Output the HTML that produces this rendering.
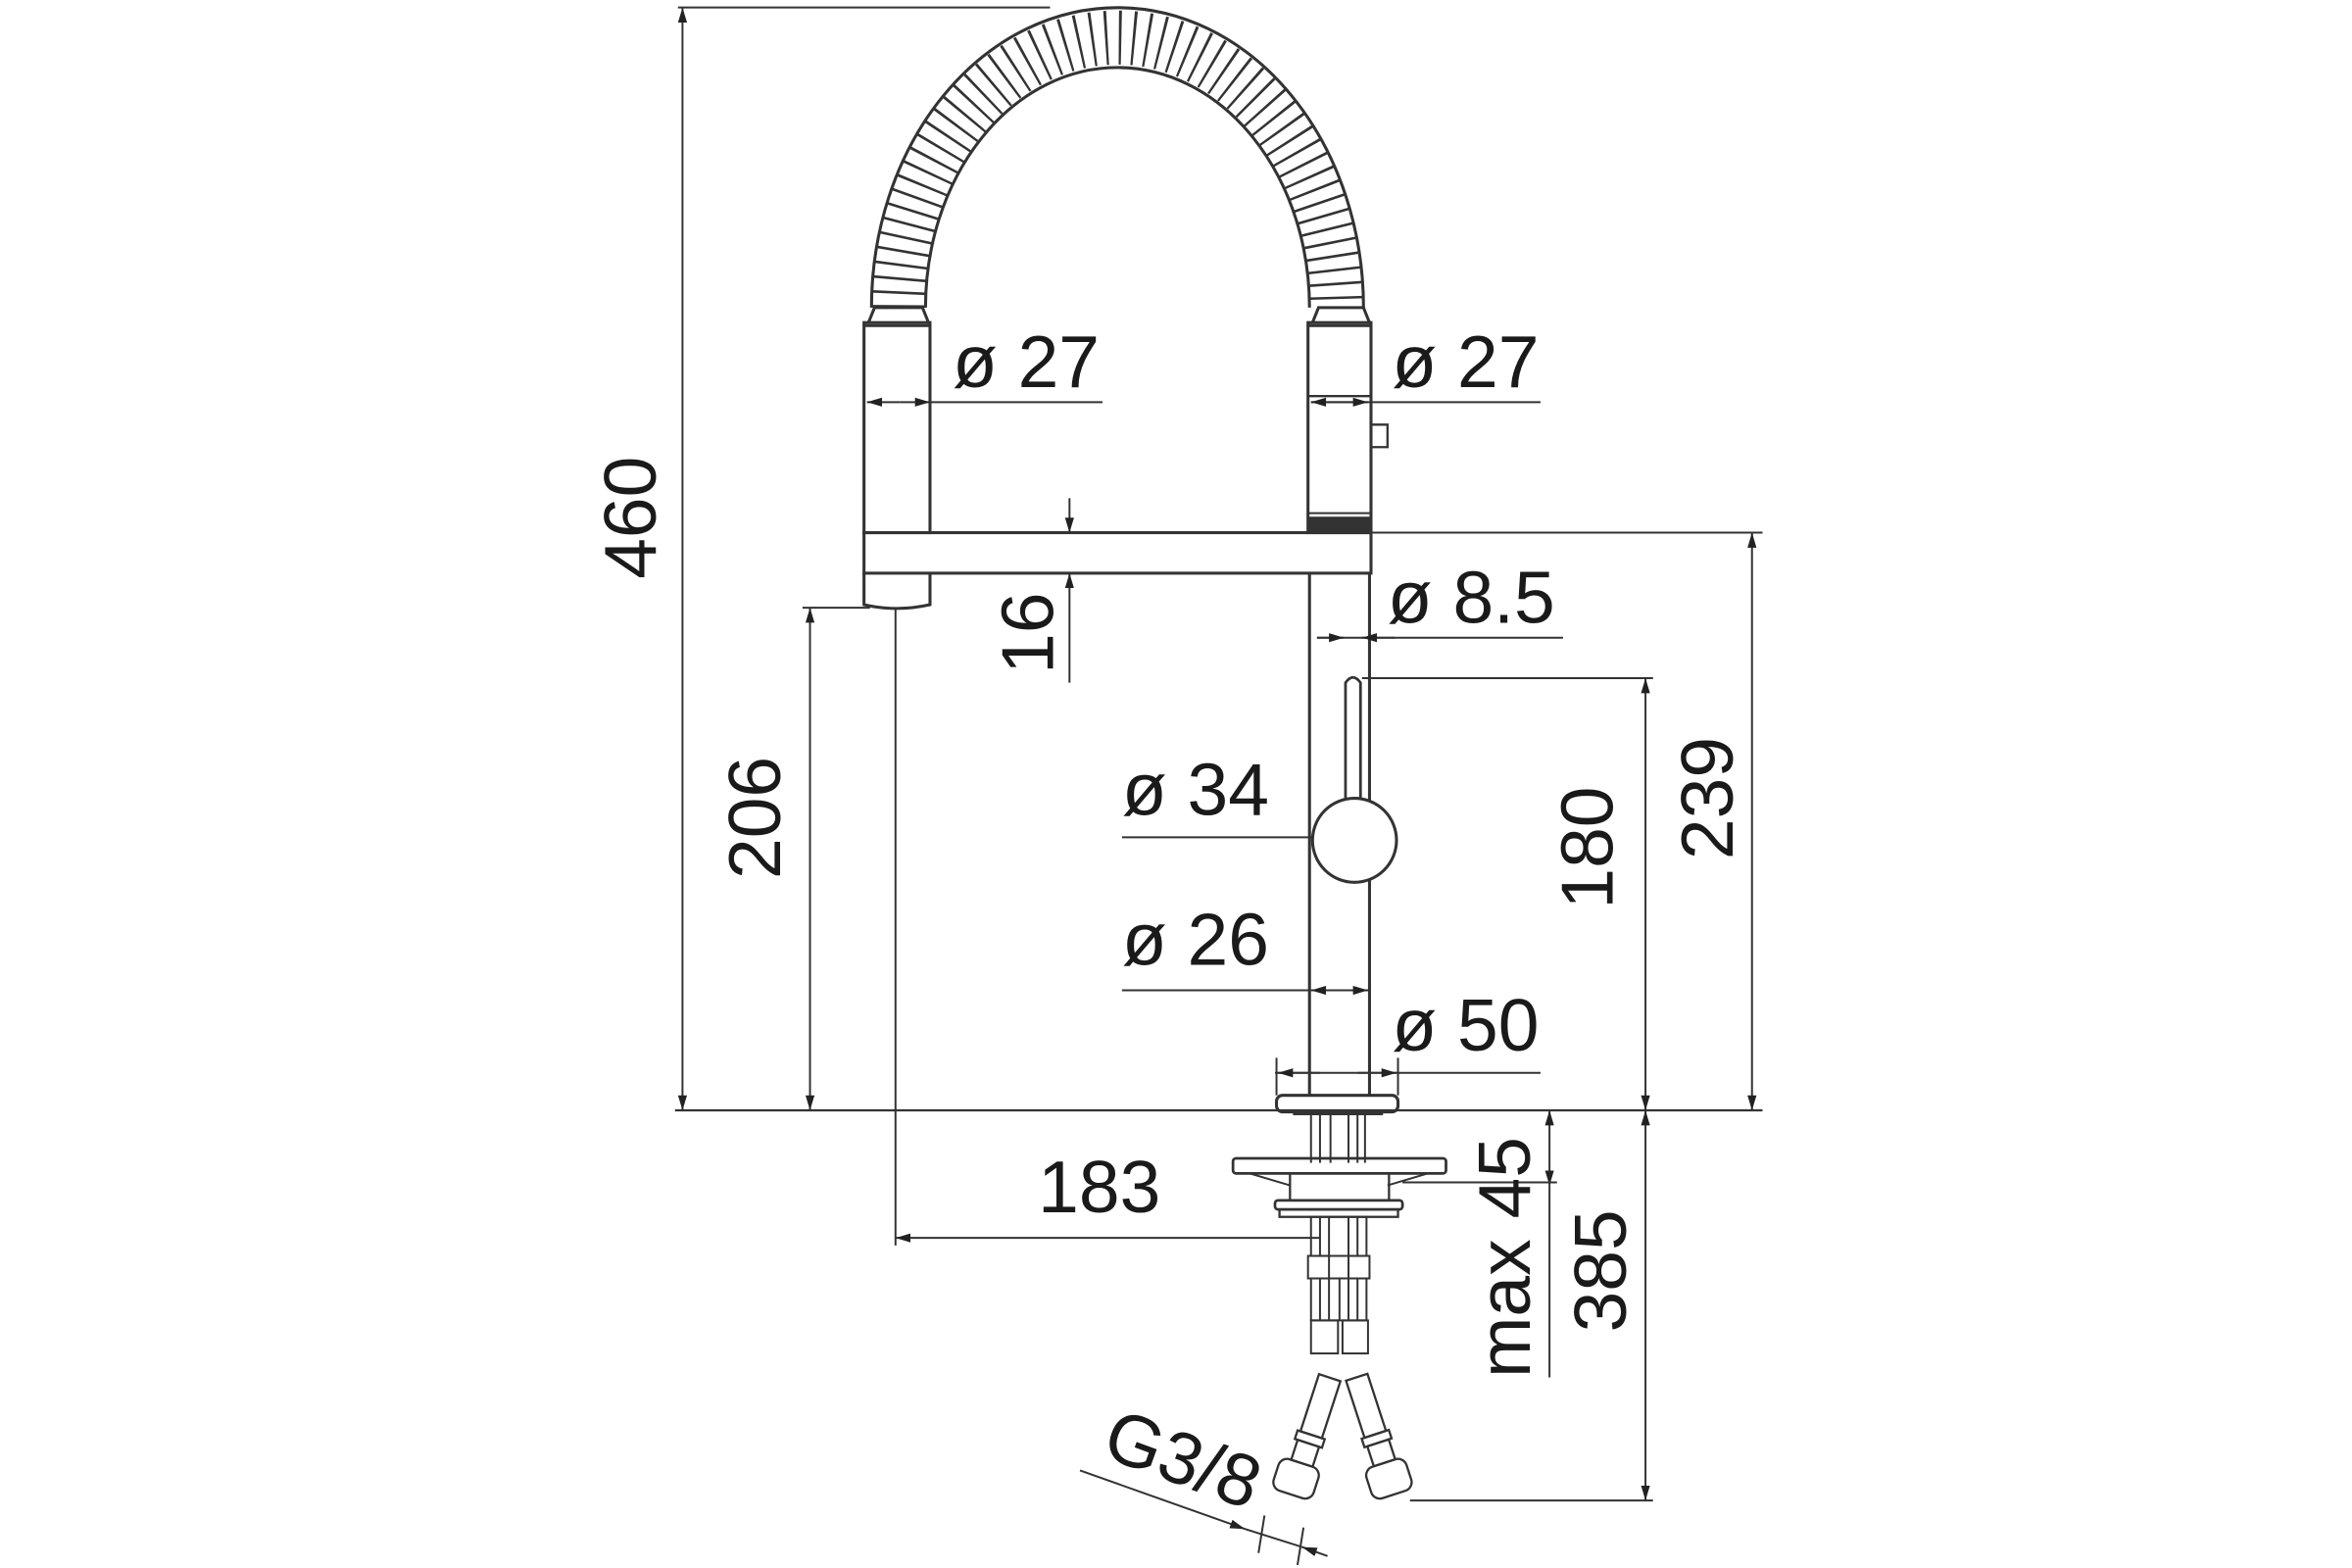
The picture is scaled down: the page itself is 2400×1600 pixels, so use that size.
<!DOCTYPE html>
<html><head><meta charset="utf-8"><style>
html,body{margin:0;padding:0;background:#fff}
svg{display:block}
text{font-family:"Liberation Sans",sans-serif;font-size:49px;fill:#1a1a1a}
</style></head><body>
<svg width="2400" height="1600" viewBox="0 0 1568 1045" preserveAspectRatio="none" xmlns="http://www.w3.org/2000/svg">
<defs>
<marker id="a" viewBox="0 0 10 6" refX="10" refY="3" markerWidth="10" markerHeight="6" markerUnits="userSpaceOnUse" orient="auto-start-reverse"><path d="M0,0 L10,3 L0,6 Z" fill="#222"/></marker>
</defs>
<g stroke="#333" stroke-width="1.3" fill="none">
<!-- hose -->
<path d="M599,205 A146,180 0 0 1 891,205" stroke="#333" stroke-width="36" stroke-dasharray="1.7 7.5"/>
<path d="M581,205 A164,200 0 0 1 909,205" stroke-width="2"/>
<path d="M617,205 A128,160 0 0 1 873,205" stroke-width="2"/>
<!-- left column -->
<path d="M579,215 L583,205 L615,205 L619,215" stroke-width="2"/>
<rect x="576" y="215" width="44" height="140" stroke-width="2"/>
<line x1="576" y1="217" x2="620" y2="217" stroke-width="2"/>
<!-- bar -->
<rect x="576" y="355" width="338" height="27" stroke-width="2"/>
<path d="M576,382 L576,403 Q598,408 620,403 L620,382" stroke-width="2"/>
<!-- right column -->
<path d="M875,215 L879,205 L909,205 L913,215" stroke-width="2"/>
<rect x="872" y="215" width="42" height="140" stroke-width="2"/>
<line x1="872" y1="217" x2="914" y2="217" stroke-width="2"/>
<line x1="872" y1="264" x2="914" y2="264" stroke-width="1.5"/>
<rect x="872" y="345" width="42" height="9" fill="#333"/>
<line x1="872" y1="342" x2="914" y2="342"/>
<path d="M914,283 L925,283 L925,298 L914,298" stroke-width="1.5"/>
<!-- body -->
<line x1="873" y1="382" x2="873" y2="730" stroke-width="2"/>
<line x1="913" y1="382" x2="913" y2="730" stroke-width="2"/>
<path d="M897,535 L897,455 Q902,448 907,455 L907,535" stroke-width="1.8"/>
<circle cx="903" cy="560" r="28" fill="#fff" stroke-width="2"/>
<rect x="851" y="730" width="81" height="11" rx="4" stroke-width="2"/>
<line x1="862" y1="742" x2="922" y2="742" stroke-width="2.5"/>
<!-- under-sink -->
<line x1="874" y1="742" x2="874" y2="775"/><line x1="880" y1="742" x2="880" y2="775"/>
<line x1="887" y1="742" x2="887" y2="775"/><line x1="899" y1="742" x2="899" y2="775"/>
<line x1="905" y1="742" x2="905" y2="775"/><line x1="910" y1="742" x2="910" y2="775"/>
<rect x="822" y="772" width="142" height="10" rx="2" stroke-width="1.8"/>
<path d="M833,782 L860,790 M952,782 L925,790"/>
<rect x="860" y="782" width="66" height="18" stroke-width="1.5"/>
<rect x="850" y="800" width="85" height="6" rx="2" stroke-width="1.8"/>
<rect x="853" y="806" width="79" height="5" stroke-width="1.5"/>
<rect x="874" y="811" width="37" height="26"/>
<line x1="880" y1="811" x2="880" y2="837"/><line x1="886" y1="811" x2="886" y2="837"/>
<line x1="899" y1="811" x2="899" y2="837"/><line x1="905" y1="811" x2="905" y2="837"/>
<rect x="872" y="837" width="14" height="15"/><rect x="899" y="837" width="14" height="15"/>
<rect x="874" y="852" width="37" height="28"/>
<line x1="880" y1="852" x2="880" y2="880"/><line x1="886" y1="852" x2="886" y2="880"/><line x1="893" y1="852" x2="893" y2="880"/><line x1="899" y1="852" x2="899" y2="880"/><line x1="905" y1="852" x2="905" y2="880"/>
<rect x="874" y="880" width="18" height="22"/><rect x="895" y="880" width="17" height="22"/>
<!-- angled hoses -->
<g transform="rotate(18 886 918)" stroke-width="1.5">
<rect x="879" y="918" width="15" height="40"/><rect x="877" y="958" width="19" height="6"/>
<rect x="879" y="964" width="15" height="14"/>
<rect x="872" y="978" width="28" height="22" rx="6"/>
</g>
<g transform="rotate(-18 904 918)" stroke-width="1.5">
<rect x="897" y="918" width="15" height="40"/><rect x="895" y="958" width="19" height="6"/>
<rect x="897" y="964" width="15" height="14"/>
<rect x="890" y="978" width="28" height="22" rx="6"/>
</g>
<!-- dimension lines -->
<line x1="452" y1="5" x2="700" y2="5"/>
<line x1="455" y1="5" x2="455" y2="740" marker-start="url(#a)" marker-end="url(#a)"/>
<line x1="450" y1="740" x2="1175" y2="740" stroke-width="1.5"/>
<line x1="535" y1="405" x2="580" y2="405"/>
<line x1="540" y1="405" x2="540" y2="740" marker-start="url(#a)" marker-end="url(#a)"/>
<line x1="597" y1="405" x2="597" y2="830"/>
<line x1="597" y1="825" x2="880" y2="825" marker-start="url(#a)"/>
<line x1="713" y1="332" x2="713" y2="355" marker-end="url(#a)"/>
<line x1="713" y1="455" x2="713" y2="382" marker-end="url(#a)"/>
<line x1="620" y1="268" x2="735" y2="268"/>
<line x1="600" y1="268" x2="620" y2="268" marker-end="url(#a)"/>
<line x1="600" y1="268" x2="578" y2="268" marker-end="url(#a)"/>
<line x1="874" y1="268" x2="1027" y2="268"/>
<line x1="893" y1="268" x2="874" y2="268" marker-end="url(#a)"/>
<line x1="893" y1="268" x2="912" y2="268" marker-end="url(#a)"/>
<line x1="878" y1="425" x2="1042" y2="425"/>
<line x1="878" y1="425" x2="896" y2="425" marker-end="url(#a)"/>
<line x1="930" y1="425" x2="908" y2="425" marker-end="url(#a)"/>
<line x1="748" y1="558" x2="876" y2="558"/>
<line x1="748" y1="660" x2="913" y2="660"/>
<line x1="893" y1="660" x2="874" y2="660" marker-end="url(#a)"/>
<line x1="893" y1="660" x2="912" y2="660" marker-end="url(#a)"/>
<line x1="850" y1="715" x2="1027" y2="715"/>
<line x1="851" y1="705" x2="851" y2="730"/><line x1="932" y1="705" x2="932" y2="730"/>
<line x1="880" y1="715" x2="852" y2="715" marker-end="url(#a)"/>
<line x1="905" y1="715" x2="931" y2="715" marker-end="url(#a)"/>
<line x1="915" y1="355" x2="1175" y2="355"/>
<line x1="1168" y1="355" x2="1168" y2="740" marker-start="url(#a)" marker-end="url(#a)"/>
<line x1="908" y1="452" x2="1102" y2="452"/>
<line x1="1097" y1="452" x2="1097" y2="740" marker-start="url(#a)" marker-end="url(#a)"/>
<line x1="1097" y1="740" x2="1097" y2="1000" marker-start="url(#a)" marker-end="url(#a)"/>
<line x1="940" y1="1000" x2="1102" y2="1000"/>
<line x1="1033" y1="740" x2="1033" y2="790" marker-start="url(#a)" marker-end="url(#a)"/>
<line x1="1033" y1="790" x2="1033" y2="918"/>
<line x1="935" y1="788" x2="1038" y2="788"/>
<line x1="720" y1="980" x2="830" y2="1019" marker-end="url(#a)"/>
<line x1="868" y1="1031" x2="885" y2="1037" marker-start="url(#a)"/>
<line x1="830" y1="1019" x2="868" y2="1031"/>
<line x1="843" y1="1010" x2="839" y2="1035"/><line x1="869" y1="1018" x2="865" y2="1043"/>
</g>
<!-- labels -->
<text x="635" y="258">ø 27</text>
<text x="928" y="258">ø 27</text>
<text x="925" y="415">ø 8.5</text>
<text x="748" y="543">ø 34</text>
<text x="748" y="643">ø 26</text>
<text x="928" y="700">ø 50</text>
<text x="692" y="808">183</text>
<text transform="translate(437,345) rotate(-90)" text-anchor="middle">460</text>
<text transform="translate(520,545) rotate(-90)" text-anchor="middle">206</text>
<text transform="translate(702,422) rotate(-90)" text-anchor="middle">16</text>
<text transform="translate(1075,565) rotate(-90)" text-anchor="middle">180</text>
<text transform="translate(1155,532) rotate(-90)" text-anchor="middle">239</text>
<text transform="translate(1084,847) rotate(-90)" text-anchor="middle">385</text>
<text transform="translate(1020,838) rotate(-90)" text-anchor="middle">max 45</text>
<text transform="translate(733,970) rotate(20)">G3/8</text>
</svg>
</body></html>
